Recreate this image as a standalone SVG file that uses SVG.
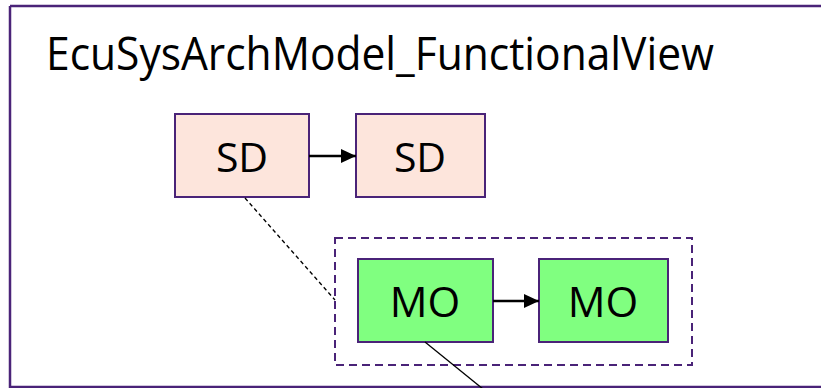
<svg xmlns="http://www.w3.org/2000/svg" width="821" height="388" viewBox="0 0 821 388">
<style>
.frame{fill:none;stroke:#4a2378;stroke-width:2.5}
.sd{fill:#fde5dc;stroke:#4a2378;stroke-width:2}
.mo{fill:#80ff80;stroke:#4a2378;stroke-width:2}
.lbl{font-family:"Open Sans","Noto Sans",sans-serif;fill:#000;text-anchor:middle}
.conn{stroke:#000;fill:none}
</style>
<defs>
<marker id="arr" markerWidth="15" markerHeight="14" refX="15" refY="7" orient="auto" markerUnits="userSpaceOnUse">
<path d="M0,0 L15,7 L0,14 Z" fill="#000"/>
</marker>
</defs>
<rect width="821" height="388" fill="#fff"/>
<path class="frame" d="M10,6 H821 M10,6 V387 H821"/>
<text x="46" y="70" font-family="'Open Sans','Noto Sans',sans-serif" font-size="46" textLength="668" lengthAdjust="spacingAndGlyphs">EcuSysArchModel_FunctionalView</text>
<g id="container">
<rect x="335" y="238" width="357" height="127" fill="none" stroke="#4a2378" stroke-width="2" stroke-dasharray="8,5"/>
</g>
<g id="sd1"><rect class="sd" x="175" y="114" width="134" height="83"/><text class="lbl" x="242" y="172" font-size="41">SD</text></g>
<g id="sd2"><rect class="sd" x="356" y="114" width="129" height="83"/><text class="lbl" x="420" y="172" font-size="41">SD</text></g>
<g id="mo1"><rect class="mo" x="358" y="259" width="135" height="83"/><text class="lbl" x="425" y="317" font-size="42">MO</text></g>
<g id="mo2"><rect class="mo" x="539" y="259" width="129" height="83"/><text class="lbl" x="603" y="317" font-size="42">MO</text></g>
<g id="connectors">
<line class="conn" x1="309" y1="156" x2="356" y2="156" stroke-width="2.5" marker-end="url(#arr)"/>
<line class="conn" x1="493" y1="301" x2="539" y2="301" stroke-width="2.5" marker-end="url(#arr)"/>
<line class="conn" x1="245" y1="198" x2="335" y2="300" stroke-width="1.3" stroke-dasharray="4,3"/>
<line class="conn" x1="425" y1="342" x2="483" y2="389" stroke-width="1.3"/>
</g>
</svg>
